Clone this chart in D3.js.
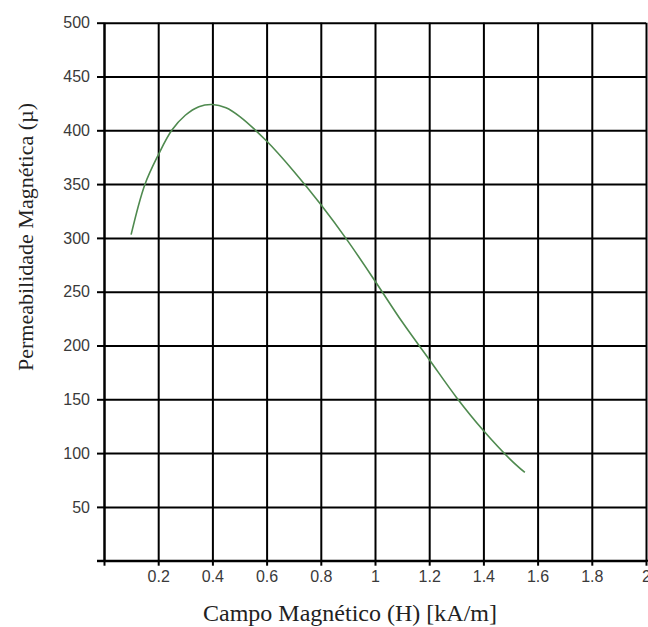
<!DOCTYPE html>
<html>
<head>
<meta charset="utf-8">
<script src="https://cdn.jsdelivr.net/npm/d3@7"></script>
<style>
  html, body { margin: 0; padding: 0; background: #fff; }
  svg { display: block; }
</style>
</head>
<body>
<div id="chart"></div>
<script>
// Campo magnético H (kA/m) vs permeabilidade magnética (µ)
const fieldH = [0.10, 0.15, 0.20, 0.25, 0.30, 0.35, 0.40, 0.45, 0.50, 0.60, 0.70, 0.80, 0.90, 1.00, 1.10, 1.20, 1.30, 1.40, 1.50, 1.553];
const permeability = [303, 349, 377, 400, 414, 422, 424, 421, 413, 390, 362, 331, 297, 260, 222, 187, 152, 121, 94, 82];
const xTicks = [0, 0.2, 0.4, 0.6, 0.8, 1, 1.2, 1.4, 1.6, 1.8, 2];
const yTicks = [0, 50, 100, 150, 200, 250, 300, 350, 400, 450, 500];

const width = 648, height = 627;
const margin = { top: 22.7, right: 2, bottom: 66.3, left: 104 };

const svg = d3.select("#chart").append("svg")
  .attr("width", width)
  .attr("height", height);

svg.append("rect").attr("width", width).attr("height", height).attr("fill", "#fff");

const x = d3.scaleLinear().domain([0, 2]).range([margin.left, width - margin.right]);
const y = d3.scaleLinear().domain([0, 500]).range([height - margin.bottom, margin.top]);

const fmt = d => d === 0 ? "" : String(d);

// X axis + vertical grid
const gx = svg.append("g")
  .attr("transform", `translate(0,${y(0)})`)
  .call(d3.axisBottom(x).tickValues(xTicks).tickFormat(fmt)
    .tickSizeInner(-(y(0) - y(500))).tickSizeOuter(0).tickPadding(10));
gx.selectAll(".tick line").attr("stroke", "#000").attr("stroke-width", 2);
gx.selectAll(".tick").append("line")
  .attr("y1", 0).attr("y2", 5).attr("stroke", "#000").attr("stroke-width", 2);
gx.select(".domain").attr("stroke", "#000").attr("stroke-width", 2)
  .attr("d", `M${x(0) - 7},0H${x(2) + 2}`);
gx.selectAll("text")
  .attr("font-family", "Liberation Sans, Arial, sans-serif")
  .attr("font-size", 16).attr("fill", "#3a3a3a");

// Y axis + horizontal grid
const gy = svg.append("g")
  .attr("transform", `translate(${x(0)},0)`)
  .call(d3.axisLeft(y).tickValues(yTicks).tickFormat(fmt)
    .tickSizeInner(-(x(2) - x(0))).tickSizeOuter(0).tickPadding(14));
gy.selectAll(".tick line").attr("stroke", "#000").attr("stroke-width", 2);
gy.selectAll(".tick").append("line")
  .attr("x1", 0).attr("x2", -7).attr("stroke", "#000").attr("stroke-width", 2);
gy.select(".domain").attr("stroke", "#000").attr("stroke-width", 2);
gy.selectAll("text")
  .attr("font-family", "Liberation Sans, Arial, sans-serif")
  .attr("font-size", 16).attr("fill", "#3a3a3a");

// Curve
const pts = fieldH.map((h, i) => ({ h, mu: permeability[i] }));
const line = d3.line()
  .x(d => x(d.h))
  .y(d => y(d.mu))
  .curve(d3.curveCatmullRom.alpha(0.5));

svg.append("path")
  .datum(pts)
  .attr("fill", "none")
  .attr("stroke", "#4f8a4f")
  .attr("stroke-width", 1.6)
  .attr("d", line);

// Axis titles
svg.append("text")
  .attr("x", 350)
  .attr("y", 621)
  .attr("text-anchor", "middle")
  .attr("font-family", "Liberation Serif, Times New Roman, serif")
  .attr("font-size", 24)
  .attr("fill", "#222")
  .text("Campo Magnético (H) [kA/m]");

svg.append("text")
  .attr("transform", "translate(33,237) rotate(-90)")
  .attr("text-anchor", "middle")
  .attr("font-family", "Liberation Serif, Times New Roman, serif")
  .attr("font-size", 22)
  .attr("fill", "#222")
  .text("Permeabilidade Magnética (µ)");
</script>
</body>
</html>
